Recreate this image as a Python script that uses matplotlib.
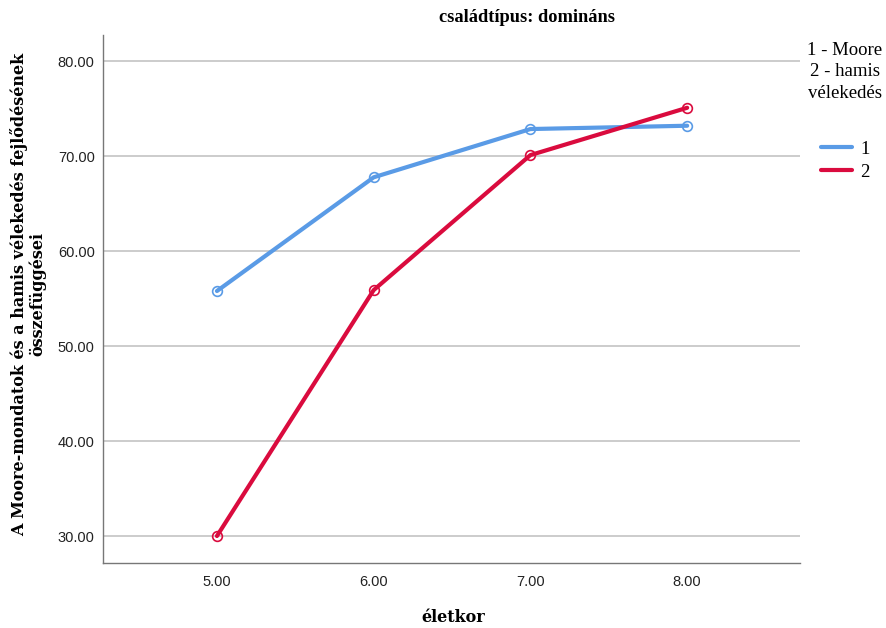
import matplotlib
matplotlib.use("Agg")
import matplotlib.pyplot as plt

ages = [5.0, 6.0, 7.0, 8.0]
series_names = ["1", "2"]
moore = [55.79, 67.76, 72.84, 73.19]
hamis = [30.0, 55.89, 70.10, 75.08]
yticks = [30, 40, 50, 60, 70, 80]
xticks = [5, 6, 7, 8]

colors = ["#5A9BE6", "#DA0B3E"]

fig = plt.figure(figsize=(8.87, 6.28), dpi=100)
ax = fig.add_axes([103/887, 1-563/628, 697/887, 528/628])

for vals, c, n in zip([moore, hamis], colors, series_names):
    ax.plot(ages, vals, color=c, lw=3, marker="o", ms=7, mfc="none",
            mec=c, mew=1.2, label=n, solid_capstyle="round")

ax.set_xlim(4.273, 8.72)
ax.set_ylim(27.16, 82.74)
ax.set_yticks(yticks)
ax.set_yticklabels([f"{v:.2f}" for v in yticks], family="Liberation Sans", fontsize=10.5, color="#222222")
ax.set_xticks(xticks)
ax.set_xticklabels([f"{v:.2f}" for v in xticks], family="Liberation Sans", fontsize=10.5, color="#222222")
ax.tick_params(length=0, pad=6)
ax.tick_params(axis="x", pad=9)
ax.yaxis.grid(True, color="#C8C8C8", lw=1.3)
ax.set_axisbelow(True)
for s in ["top", "right"]:
    ax.spines[s].set_visible(False)
for s in ["left", "bottom"]:
    ax.spines[s].set_color("#777777")
    ax.spines[s].set_linewidth(1)

fig.text(527/887, 1-18/628, "családtípus: domináns", ha="center", va="center",
         family="Liberation Serif", fontweight="bold", fontsize=13.2)
fig.text(453/887, 1-618/628, "életkor", ha="center", va="center",
         family="DejaVu Serif", fontweight="bold", fontsize=11.5)
fig.text(28/887, 1-294/628, "A Moore-mondatok és a hamis vélekedés fejlődésének\nösszefüggései",
         ha="center", va="center", rotation=90, family="DejaVu Serif",
         fontweight="bold", fontsize=11.5, linespacing=1.05, multialignment="center")

leg = fig.legend(loc="upper center", bbox_to_anchor=(845/887, 1-25/628), frameon=False,
                 title="1 - Moore\n2 - hamis\nvélekedés",
                 prop={"family": "Liberation Serif", "size": 13.5},
                 handlelength=1.7, handletextpad=0.4, labelspacing=0.3)
leg.get_title().set_family("Liberation Serif")
leg.get_title().set_fontsize(13.5)
leg.get_title().set_multialignment("center")
leg.get_title().set_linespacing(1.35)
leg._legend_box.sep = 28
for h in leg.legend_handles:
    h.set_marker("")

fig.savefig("out.png", dpi=100)
